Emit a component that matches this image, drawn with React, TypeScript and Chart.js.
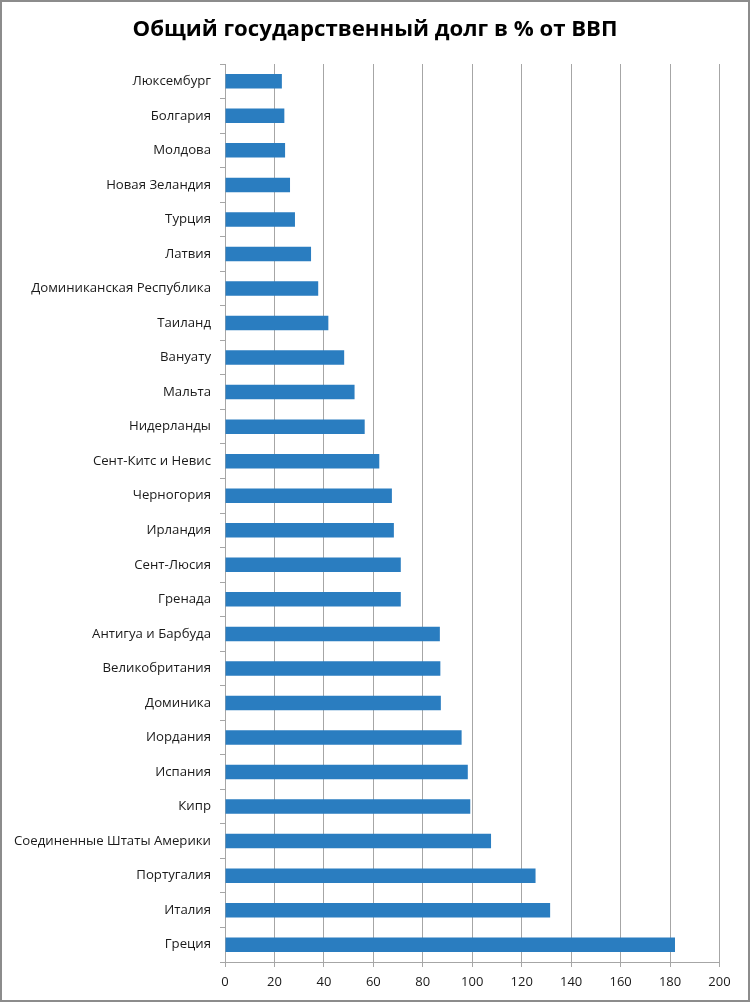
import React, { useEffect, useRef } from "react";
import { Chart, registerables } from "chart.js";

Chart.register(...registerables);

// Countries, top to bottom
const countries: string[] = [
  "Люксембург",
  "Болгария",
  "Молдова",
  "Новая Зеландия",
  "Турция",
  "Латвия",
  "Доминиканская Республика",
  "Таиланд",
  "Вануату",
  "Мальта",
  "Нидерланды",
  "Сент-Китс и Невис",
  "Черногория",
  "Ирландия",
  "Сент-Люсия",
  "Гренада",
  "Антигуа и Барбуда",
  "Великобритания",
  "Доминика",
  "Иордания",
  "Испания",
  "Кипр",
  "Соединенные Штаты Америки",
  "Португалия",
  "Италия",
  "Греция",
];

// General government debt, % of GDP
const debtPct: number[] = [
  23.0, 24.0, 24.3, 26.3, 28.3, 34.8, 37.7, 41.8, 48.2, 52.4, 56.5, 62.4, 67.5,
  68.3, 71.1, 71.1, 86.9, 87.1, 87.3, 95.7, 98.2, 99.2, 107.6, 125.6, 131.5,
  182.0,
];

const xTicks: number[] = [0, 20, 40, 60, 80, 100, 120, 140, 160, 180, 200];

const title = "Общий государственный долг в % от ВВП";

const W = 746;
const H = 998;

// Title centred across the whole canvas (not just the area left of the right padding)
const centeredTitle = {
  id: "centeredTitle",
  afterDraw(chart: any) {
    const ctx = chart.ctx;
    ctx.save();
    ctx.fillStyle = "#000000";
    ctx.font = "bold 22.2px 'Open Sans', sans-serif";
    ctx.textAlign = "center";
    ctx.textBaseline = "middle";
    ctx.fillText(title, chart.width / 2, 27.5);
    ctx.restore();
  },
};

export default function App() {
  const canvasRef = useRef<HTMLCanvasElement | null>(null);

  useEffect(() => {
    const canvas = canvasRef.current;
    if (!canvas) return;
    const gridColor = "#a6a6a6";
    const chart = new Chart(canvas, {
      type: "bar",
      data: {
        labels: countries,
        datasets: [
          {
            data: debtPct,
            backgroundColor: "#2a7dc0",
            borderWidth: 0,
            categoryPercentage: 1,
            barPercentage: 0.42,
          },
        ],
      },
      plugins: [centeredTitle],
      options: {
        indexAxis: "y",
        responsive: false,
        animation: false,
        devicePixelRatio: 1,
        layout: { padding: { left: 0, right: 28.5, top: 62, bottom: 0 } },
        plugins: {
          legend: { display: false },
          tooltip: { enabled: false },
          title: { display: false },
        },
        scales: {
          x: {
            type: "linear",
            min: 0,
            max: 200,
            afterBuildTicks: (scale: any) => {
              scale.ticks = xTicks.map((v) => ({ value: v }));
            },
            afterFit: (scale: any) => {
              scale.height = 38;
            },
            grid: {
              color: gridColor,
              lineWidth: 1,
              drawTicks: true,
              tickLength: 5,
            },
            border: { display: true, color: gridColor, width: 1 },
            ticks: {
              color: "#1a1a1a",
              padding: 7,
              font: { family: "'Open Sans', sans-serif", size: 13 },
            },
          },
          y: {
            type: "category",
            afterFit: (scale: any) => {
              scale.width = 223;
            },
            grid: {
              offset: true,
              drawOnChartArea: false,
              drawTicks: true,
              tickLength: 5,
              color: gridColor,
            },
            border: { display: true, color: gridColor, width: 1 },
            ticks: {
              color: "#1a1a1a",
              padding: 9,
              autoSkip: false,
              font: { family: "'Open Sans', sans-serif", size: 13.2 },
            },
          },
        },
      },
    });
    return () => chart.destroy();
  }, []);

  return (
    <div
      style={{
        position: "absolute",
        left: 0,
        top: 0,
        width: W + 4,
        height: H + 4,
        boxSizing: "border-box",
        border: "2px solid #8c8c8c",
        background: "#ffffff",
      }}
    >
      <canvas ref={canvasRef} width={W} height={H} style={{ display: "block" }} />
    </div>
  );
}
